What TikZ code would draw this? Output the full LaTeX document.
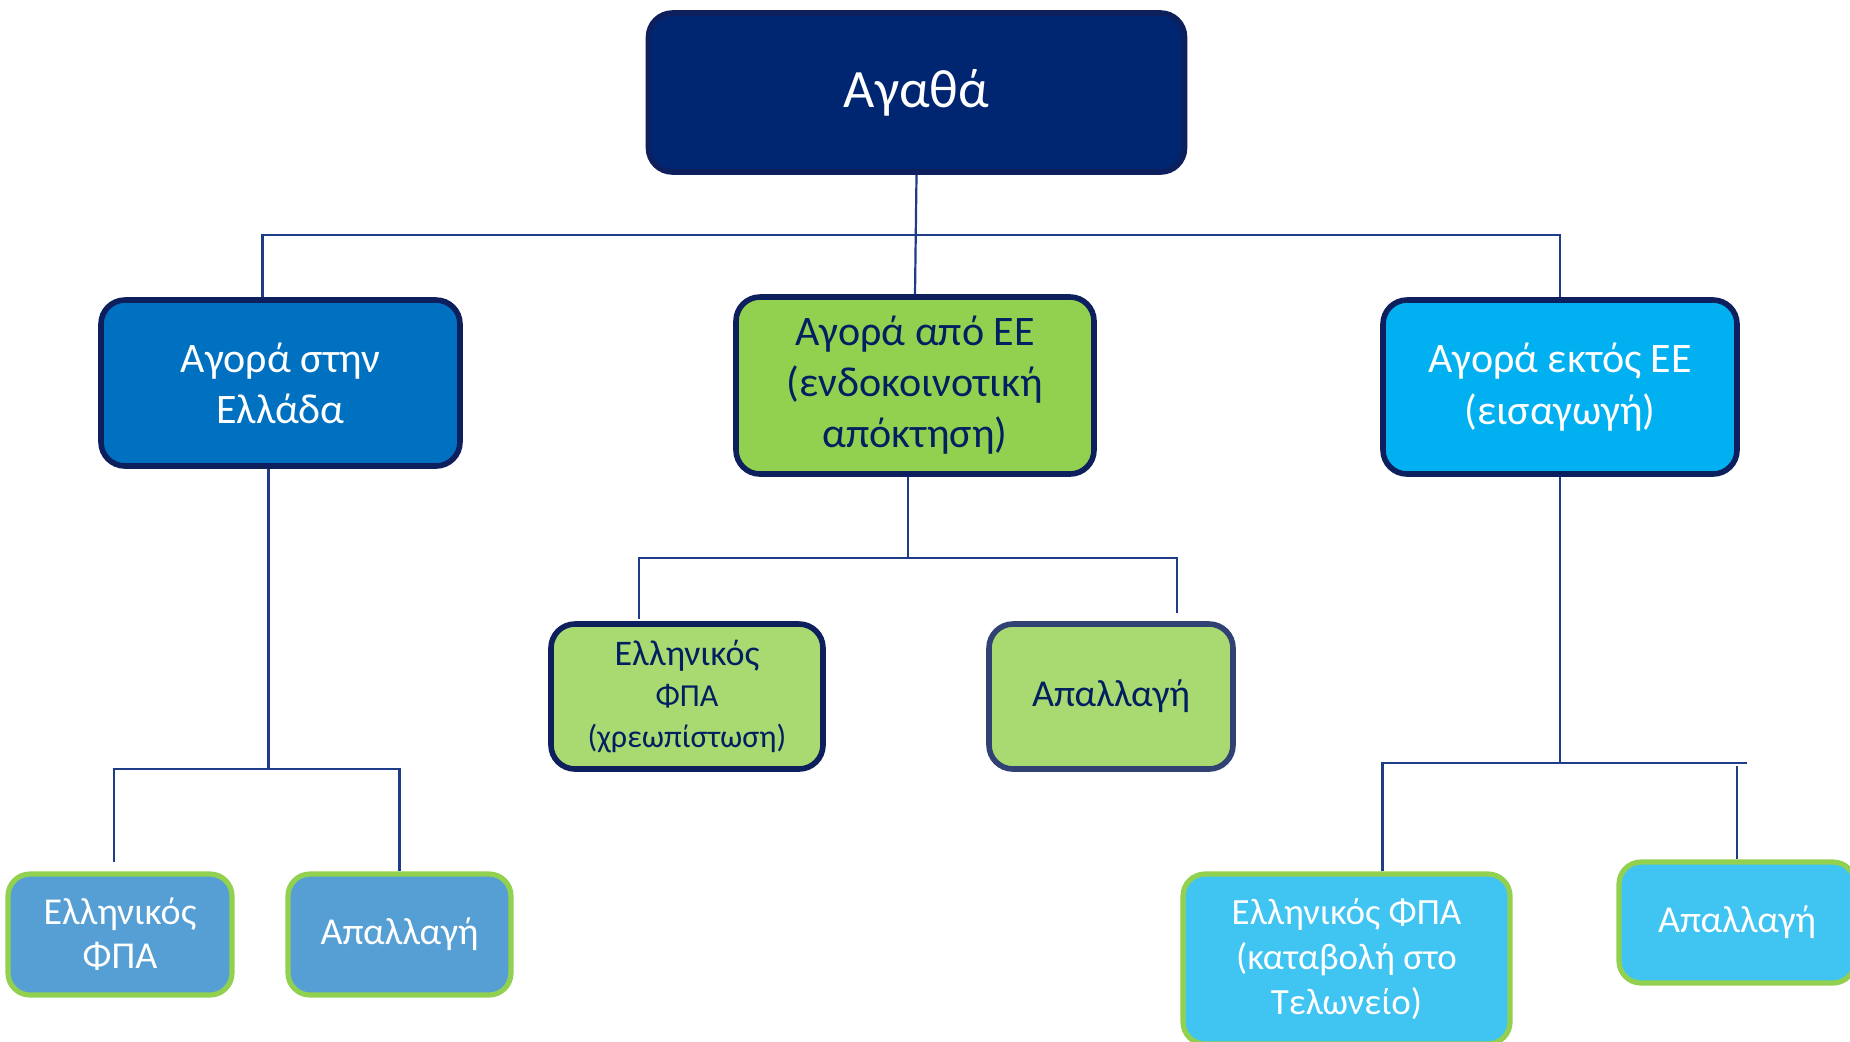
\documentclass[tikz,border=0pt]{standalone}
\usepackage{fontspec}
\setmainfont{Carlito}
\usepackage{tikz}
\usetikzlibrary{calc}
\definecolor{navyfill}{HTML}{002672}
\definecolor{navyline}{HTML}{0D1F5C}
\definecolor{linkblue}{HTML}{1F3C88}
\definecolor{textnavy}{HTML}{002060}
\definecolor{greenline}{HTML}{92D050}
\definecolor{fillGR}{HTML}{0070C0}
\definecolor{fillEU}{HTML}{92D050}
\definecolor{fillNonEU}{HTML}{00B0F0}
\definecolor{subGR}{HTML}{559FD5}
\definecolor{subEU}{HTML}{A9D971}
\definecolor{subNonEU}{HTML}{40C4F2}
\tikzset{
% Two box styles for the tree: dark rim and green rim
dark box/.style={rectangle,rounded corners=12pt,draw=navyline,line width=2.8pt,align=center,inner sep=0pt},
green box/.style={rectangle,rounded corners=11pt,draw=greenline,line width=2.6pt,align=center,inner sep=0pt,text=white},
link/.style={draw=linkblue,line width=1.1pt}
}

\begin{document}
\begin{tikzpicture}[x=0.5pt,y=-0.5pt]
\clip (0,0) rectangle (1850,1041);
\useasboundingbox (0,0) rectangle (1850,1041);
% Level 0
\node(goods)[dark box,fill=navyfill,text=white,minimum width=268pt,minimum height=79.5pt,font=\fontsize{27}{32}\selectfont] at (916.5,92.5) {Αγαθά};
% Level 1
\node(buyGR)[dark box,fill=fillGR,text=white,minimum width=179.5pt,minimum height=83pt,font=\fontsize{21}{25.5}\selectfont] at (280.5,383) {Αγορά στην\\Ελλάδα};
\node(buyEU)[dark box,fill=fillEU,text=textnavy,minimum width=179pt,minimum height=88.5pt,font=\fontsize{21}{25.5}\selectfont] at (915,385.5) {Αγορά από ΕΕ\\(ενδοκοινοτική\\απόκτηση)};
\node(buyNonEU)[dark box,fill=fillNonEU,text=white,minimum width=177pt,minimum height=87pt,font=\fontsize{21}{26}\selectfont] at (1560,387) {Αγορά εκτός ΕΕ\\(εισαγωγή)};
% Level 2
\node(grVAT)[green box,fill=subGR,minimum width=112pt,minimum height=60.5pt,font=\fontsize{19}{22}\selectfont] at (120,934.5) {Ελληνικός\\ΦΠΑ};
\node(grEx)[green box,fill=subGR,minimum width=111.5pt,minimum height=60.5pt,font=\fontsize{19}{22}\selectfont] at (399.5,934.5) {Απαλλαγή};
\node(euVAT)[dark box,fill=subEU,text=textnavy,minimum width=136pt,minimum height=72.5pt,font=\fontsize{18}{20.5}\selectfont] at (687,696.5) {Ελληνικός\\{\fontsize{16}{20}\selectfont ΦΠΑ}\\{\fontsize{16}{20}\selectfont (χρεωπίστωση)}};
\node(euEx)[dark box,fill=subEU,text=textnavy,draw=navyline!85!white,minimum width=122pt,minimum height=72.5pt,font=\fontsize{19}{22}\selectfont] at (1111,696.5) {Απαλλαγή};
\node(nonVAT)[green box,fill=subNonEU,minimum width=163.5pt,minimum height=85pt,font=\fontsize{18.5}{22.4}\selectfont] at (1346.5,959) {Ελληνικός ΦΠΑ\\(καταβολή στο\\Τελωνείο)};
\node(nonEx)[green box,fill=subNonEU,minimum width=118pt,minimum height=60.5pt,font=\fontsize{19}{22}\selectfont] at (1737,922.5) {Απαλλαγή};
% Bars
\coordinate(topbar) at (0,235);
\coordinate(grbar) at (0,769);
\coordinate(eubar) at (0,558);
\coordinate(nonbar) at (0,763);
% The Links
\draw[link] (goods.south) -- (buyEU.north);
\draw[link] ([xshift=-9pt]buyGR.north) |- (buyNonEU.north |- topbar) -- (buyNonEU.north);
\draw[link] ([xshift=-6pt]buyGR.south) -- ([xshift=-6pt]buyGR.south |- grbar);
\draw[link] ([xshift=-3pt,yshift=4.5pt]grVAT.north) -- ([xshift=-3pt]grVAT.north |- grbar) -- (grEx.north |- grbar) -- (grEx.north);
\draw[link] ([xshift=-3.5pt]buyEU.south) -- ([xshift=-3.5pt]buyEU.south |- eubar);
\draw[link] ([xshift=-24pt,yshift=1pt]euVAT.north) |- ([xshift=33pt]euEx.north |- eubar) -- ([xshift=33pt,yshift=4pt]euEx.north);
\draw[link] (buyNonEU.south) -- (buyNonEU.south |- nonbar);
\draw[link] ([xshift=18pt]nonVAT.north) |- ([xshift=5pt]nonEx.north |- nonbar);
\draw[link] ([yshift=-1.5pt]nonEx.north |- nonbar) -- (nonEx.north);
\end{tikzpicture}
\end{document}
